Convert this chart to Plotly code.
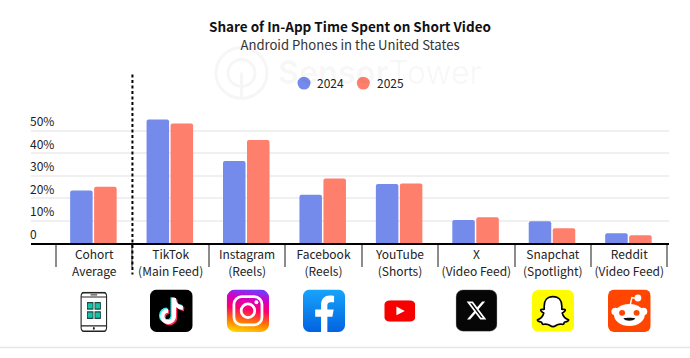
import base64
import plotly.graph_objects as go

# ---------- data ----------
categories = ["Cohort<br>Average", "TikTok<br>(Main Feed)", "Instagram<br>(Reels)", "Facebook<br>(Reels)",
              "YouTube<br>(Shorts)", "X<br>(Video Feed)", "Snapchat<br>(Spotlight)", "Reddit<br>(Video Feed)"]
values_2024 = [23.3, 54.9, 36.4, 21.4, 26.2, 10.2, 9.7, 4.3]
values_2025 = [25.0, 53.1, 45.8, 28.7, 26.4, 11.5, 6.6, 3.5]
y_ticks = [0, 10, 20, 30, 40, 50]
y_labels = ["0", "10%", "20%", "30%", "40%", "50%"]

BLUE, RED = "#758bec", "#fe7f6c"
FONT = "Noto Sans CJK SC"
L, R, ZERO, TOP = 31, 669, 243.3, 107.7

def xp(x): return (x - L) / (R - L)
def yp(y): return (ZERO - y) / (ZERO - TOP)
def uri(body, vb="0 0 100 100"):
    svg = f'<svg xmlns="http://www.w3.org/2000/svg" viewBox="{vb}" preserveAspectRatio="none">{body}</svg>'
    return "data:image/svg+xml;base64," + base64.b64encode(svg.encode()).decode()
def small(label):
    return "<br>".join(f'<span style="font-size:12px">{p}</span>' for p in label.split("<br>"))

note = "M56 20 V63 A13.5 13.5 0 1 1 42.5 49.5 M56 22 C57 34 66 42 77 43"
phone = ('<rect x="4" y="2" width="92" height="96" rx="9" fill="#fff" stroke="#222" stroke-width="4"/>'
         '<path d="M4 13H96M4 85H96" stroke="#222" stroke-width="3"/>'
         '<rect x="38" y="6.5" width="24" height="2.5" fill="#222"/><circle cx="50" cy="91" r="3.5" fill="#222"/>'
         + "".join(f'<rect x="{x}" y="{y}" width="20" height="16" fill="#12c2a9" stroke="#16403c" stroke-width="3"/>'
                   for x in (27, 54) for y in (27, 50)))
tiktok = ('<rect width="100" height="100" rx="16" fill="#000"/>'
          f'<path d="{note}" transform="translate(-3 -2)" fill="none" stroke="#25f4ee" stroke-width="10"/>'
          f'<path d="{note}" transform="translate(3 3)" fill="none" stroke="#fe2c55" stroke-width="10"/>'
          f'<path d="{note}" fill="none" stroke="#fff" stroke-width="10"/>')
insta = ('<defs><linearGradient id="g" x1="0.3" y1="1" x2="0.45" y2="0">'
         '<stop offset="0" stop-color="#ffd600"/><stop offset="0.25" stop-color="#ff7a00"/>'
         '<stop offset="0.55" stop-color="#ff0069"/><stop offset="0.8" stop-color="#d300c5"/>'
         '<stop offset="1" stop-color="#7638fa"/></linearGradient></defs>'
         '<rect width="100" height="100" rx="20" fill="url(#g)"/>'
         '<rect x="17" y="17" width="66" height="66" rx="18" fill="none" stroke="#fff" stroke-width="6.5"/>'
         '<circle cx="50" cy="50" r="16" fill="none" stroke="#fff" stroke-width="6.5"/>'
         '<circle cx="70" cy="30" r="4.5" fill="#fff"/>')
facebook = ('<defs><linearGradient id="f" x1="0" y1="0" x2="0" y2="1"><stop offset="0" stop-color="#18a4fb"/>'
            '<stop offset="1" stop-color="#0163e0"/></linearGradient></defs>'
            '<rect width="100" height="100" rx="16" fill="url(#f)"/>'
            '<path d="M43 100V64H29V47H43V36C43 22 51 14 64 14C70 14 74 15 74 15V30H67C59 30 58 34 58 39V47H73L70 64H58V100Z" fill="#fff"/>')
youtube = ('<rect width="100" height="100" rx="20" fill="#f70000"/>'
           '<path d="M39 30L66 50L39 70Z" fill="#fff"/>')
xlogo = ('<rect x="1" y="1" width="98" height="98" rx="17" fill="#060606" stroke="#333" stroke-width="1.5"/>'
         '<g transform="translate(23.5 23.5) scale(2.2)"><path fill="#fff" d="M18.244 2.25h3.308l-7.227 8.26 8.502 11.24H16.17l-5.214-6.817L4.99 21.75H1.68l7.73-8.835L1.254 2.25H8.08l4.713 6.231zm-1.161 17.52h1.833L7.084 4.126H5.117z"/></g>')
snap = ('<rect width="100" height="100" rx="15" fill="#fffc00"/>'
        '<path d="M50 16C36 16 29 26 29 38V46C26 47 23 45 21 47C19 50 26 54 28 55C26 63 20 69 13 71C12 75 19 76 23 77C24 81 25 83 28 82C34 81 39 82 43 85C47 88 53 88 57 85C61 82 66 81 72 82C75 83 76 81 77 77C81 76 88 75 87 71C80 69 74 63 72 55C74 54 81 50 79 47C77 45 74 47 71 46V38C71 26 64 16 50 16Z" fill="#fff" stroke="#000" stroke-width="4" stroke-linejoin="round"/>')
reddit = ('<rect width="100" height="100" rx="15" fill="#ff4500"/>'
          '<path d="M52 36L56 19L70 22" fill="none" stroke="#fff" stroke-width="3.5"/>'
          '<circle cx="70" cy="20" r="8" fill="#fff"/>'
          '<circle cx="17" cy="52" r="9" fill="#fff"/><circle cx="83" cy="52" r="9" fill="#fff"/>'
          '<ellipse cx="50" cy="60" rx="36" ry="26" fill="#fff"/>'
          '<circle cx="33" cy="55" r="7" fill="#ff4500"/><circle cx="67" cy="55" r="7" fill="#ff4500"/>'
          '<path d="M36 68C42 75 58 75 64 68C58 66 42 66 36 68Z" fill="#111"/>')

icons = [(phone, 80, 292.3, 27.7, 40.4), (tiktok, 150, 290, 42.7, 42.7), (insta, 226.7, 290, 42.5, 42.7),
         (facebook, 303, 290, 42, 42.7), (youtube, 384.3, 300.7, 31, 21.6), (xlogo, 455.7, 290, 41.6, 42.3),
         (snap, 532, 290.5, 42, 42), (reddit, 608, 290, 42.7, 42.7)]

BAR_W = 0.2945
fig = go.Figure()
for name, vals, col, off in (("2024", values_2024, BLUE, -0.315), ("2025", values_2025, RED, -0.001)):
    fig.add_bar(x=categories, y=vals, name=name, showlegend=False, width=BAR_W, offset=off,
                marker=dict(color=col, cornerradius=2, line=dict(color=col, width=0)))

WM = "#f6f6f6"
shapes = [
    dict(type="line", xref="x", yref="paper", x0=0.5, x1=0.5, y0=yp(74), y1=yp(275),
         line=dict(color="#000", width=2, dash="3px,2.5px"), layer="above"),
    dict(type="line", xref="paper", yref="paper", x0=xp(0), x1=xp(690), y0=yp(348.3), y1=yp(348.3),
         line=dict(color="#e6e6e6", width=1.5)),
    dict(type="circle", xref="paper", yref="paper", x0=xp(216), x1=xp(267), y0=yp(47), y1=yp(98),
         line=dict(color=WM, width=3), layer="below"),
    dict(type="circle", xref="paper", yref="paper", x0=xp(228), x1=xp(255), y0=yp(59), y1=yp(86),
         line=dict(color=WM, width=3), layer="below"),
    dict(type="line", xref="paper", yref="paper", x0=xp(241.5), x1=xp(241.5), y0=yp(72), y1=yp(97),
         line=dict(color=WM, width=3), layer="below"),
]
annotations = [dict(text="<b>Sensor</b>Tower", xref="paper", yref="paper", x=xp(276), y=yp(72), xanchor="left",
                    yanchor="middle", showarrow=False, font=dict(size=32, color="rgba(0,0,0,0.035)", family="Inter"))]
# key: circles and labels placed as in the reference
for trace, cx, tx in zip(fig.data, (304, 363.3), (317, 377)):
    shapes.append(dict(type="circle", xref="paper", yref="paper", x0=xp(cx - 6.5), x1=xp(cx + 6.5),
                       y0=yp(82.7 - 6.5), y1=yp(82.7 + 6.5), fillcolor=trace.marker.color, line=dict(width=0)))
    annotations.append(dict(text=trace.name, xref="paper", yref="paper", x=xp(tx), y=yp(81.7), xanchor="left",
                            yanchor="middle", showarrow=False, xshift=0, borderpad=0, borderwidth=0,
                            font=dict(size=12, color="#222")))

fig.update_layout(
    width=690, height=358, barmode="group", showlegend=False,
    margin=dict(l=L, r=690 - R, t=TOP, b=358 - ZERO, pad=0, autoexpand=False),
    paper_bgcolor="#fff", plot_bgcolor="rgba(0,0,0,0)",
    font=dict(family=FONT, color="#222", size=13),
    title=dict(text="<b>Share of In-App Time Spent on Short Video</b><br>"
                    "<span style=\"font-size:13.1px;color:#333\">Android Phones in the United States</span>",
               x=350 / 690, xanchor="center", y=1 - 32 / 358, yanchor="top", yref="container",
               font=dict(size=13.5, color="#111", family=FONT)),
    xaxis=dict(type="category", categoryorder="array", categoryarray=categories, range=[-0.827, 7.52],
               tickmode="array", tickvals=categories, ticktext=[small(c) for c in categories],
               showgrid=False, showline=True, linecolor="#000", linewidth=1.5,
               ticks="outside", tickson="boundaries", ticklen=22, tickcolor="#8c8c8c", tickwidth=1.5,
               ticklabelstandoff=-2, tickfont=dict(size=13.4, color="#222"), tickangle=0),
    yaxis=dict(range=[0, 60], tickvals=y_ticks, ticktext=y_labels, ticklabelposition="inside top",
               ticklabelstandoff=-4,
               showgrid=True, gridcolor="#f0f0f0", gridwidth=1.5, zeroline=False, showline=False,
               tickfont=dict(size=12, color="#222")),
    shapes=shapes,
    annotations=annotations,
    images=[dict(source=uri(b), xref="paper", yref="paper", x=xp(x), y=yp(y), sizex=w / (R - L), sizey=h / (ZERO - TOP),
                 xanchor="left", yanchor="top", sizing="stretch", layer="above") for b, x, y, w, h in icons],
)
fig.write_html("out.html", post_script="document.body.style.margin='0';", config={"displayModeBar": False})
